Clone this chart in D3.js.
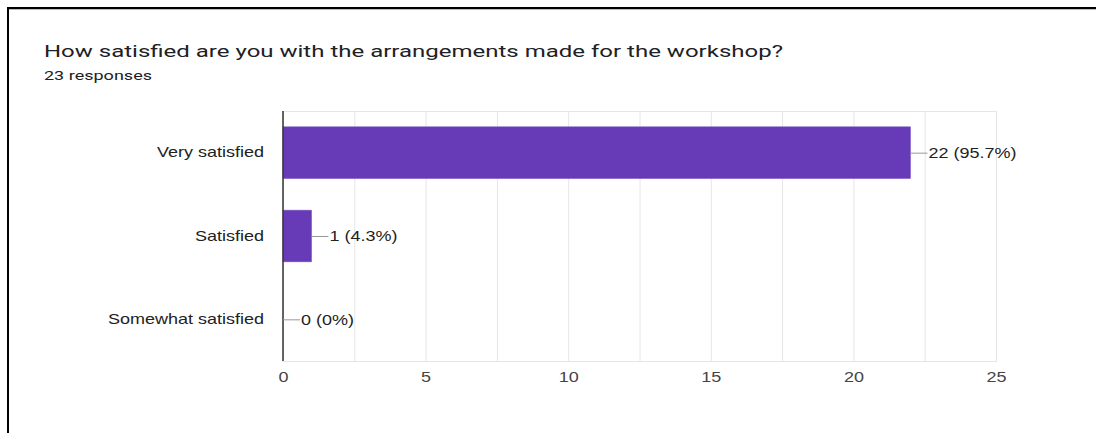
<!DOCTYPE html>
<html>
<head>
<meta charset="utf-8">
<script src="https://cdn.jsdelivr.net/npm/d3@7"></script>
<style>
  html, body { margin: 0; padding: 0; background: #fff; }
  svg { display: block; }
</style>
</head>
<body>
<svg id="chart" width="1096" height="433"></svg>
<script>
const title = "How satisfied are you with the arrangements made for the workshop?";
const subtitle = "23 responses";
const categories = ["Very satisfied", "Satisfied", "Somewhat satisfied"];
const counts = [22, 1, 0];
const percents = ["95.7%", "4.3%", "0%"];
const tickValues = [0, 5, 10, 15, 20, 25];
const gridValues = [0, 2.5, 5, 7.5, 10, 12.5, 15, 17.5, 20, 22.5, 25];

const svg = d3.select("#chart");

function stretch(sel, f) {
  sel.each(function () {
    const w = this.getComputedTextLength();
    d3.select(this).attr("textLength", w * f).attr("lengthAdjust", "spacingAndGlyphs");
  });
}

// frame
svg.append("line").attr("x1", 8).attr("x2", 1096).attr("y1", 8).attr("y2", 8)
  .attr("stroke", "#000").attr("stroke-width", 2);
svg.append("line").attr("x1", 8).attr("x2", 1096).attr("y1", 9.5).attr("y2", 9.5)
  .attr("stroke", "#bbb").attr("stroke-width", 1);
svg.append("line").attr("x1", 8).attr("x2", 8).attr("y1", 7).attr("y2", 433)
  .attr("stroke", "#000").attr("stroke-width", 2);

svg.append("text").attr("x", 44).attr("y", 57)
  .attr("font-family", "Roboto, 'Open Sans', sans-serif").attr("font-size", 17)
  .attr("fill", "#202124").text(title)
  .attr("textLength", 739).attr("lengthAdjust", "spacingAndGlyphs");
svg.append("text").attr("x", 44).attr("y", 80)
  .attr("font-family", "Roboto, sans-serif").attr("font-size", 13.5)
  .attr("fill", "#202124").text(subtitle)
  .attr("textLength", 108).attr("lengthAdjust", "spacingAndGlyphs");

const x = d3.scaleLinear().domain([0, 25]).range([283, 996]);
const y = d3.scaleBand().domain(categories).range([111, 361]).paddingInner(0.38).paddingOuter(0.19);

const font = "'Liberation Sans', Arial, sans-serif";
const F = 1.2;

// grid
svg.append("g").selectAll("line").data(gridValues).join("line")
  .attr("x1", d => x(d) + 0.5).attr("x2", d => x(d) + 0.5)
  .attr("y1", 111).attr("y2", 361)
  .attr("stroke", "#e6e6e6").attr("stroke-width", 1);
svg.append("line").attr("x1", 283).attr("x2", 997).attr("y1", 111.5).attr("y2", 111.5)
  .attr("stroke", "#e6e6e6");
svg.append("line").attr("x1", 283).attr("x2", 997).attr("y1", 361.5).attr("y2", 361.5)
  .attr("stroke", "#e6e6e6");

// x axis labels
const xAxis = d3.axisBottom(x).tickValues(tickValues).tickSize(0).tickPadding(9);
const gx = svg.append("g").attr("transform", "translate(0,362)").call(xAxis);
gx.select(".domain").remove();
gx.selectAll("text").attr("font-family", font).attr("font-size", 15).attr("fill", "#444");
stretch(gx.selectAll("text"), F);

// bars
svg.append("g").selectAll("rect").data(categories).join("rect")
  .attr("x", x(0)).attr("y", d => y(d))
  .attr("width", (d, i) => x(counts[i]) - x(0))
  .attr("height", y.bandwidth())
  .attr("fill", "#673ab7")
  .attr("stroke", "#7e57c2").attr("stroke-width", 0.6);

// y axis
const yAxis = d3.axisLeft(y).tickSize(0).tickPadding(19);
const gy = svg.append("g").attr("transform", "translate(283,0)").call(yAxis);
gy.select(".domain").attr("stroke", "#333").attr("stroke-width", 1.5).attr("d", "M0,111V361");
gy.selectAll("text").attr("font-family", font).attr("font-size", 15).attr("fill", "#222");
stretch(gy.selectAll("text"), F);

// value labels
const lab = svg.append("g").selectAll("g").data(categories).join("g")
  .attr("transform", (d, i) => `translate(${x(counts[i])},${y(d) + y.bandwidth() / 2})`);
lab.append("line").attr("x1", 0).attr("x2", 17).attr("y1", 0.5).attr("y2", 0.5)
  .attr("stroke", "#999").attr("stroke-width", 1);
const vt = lab.append("text").attr("x", 18).attr("dy", "0.35em")
  .attr("font-family", font).attr("font-size", 15).attr("fill", "#222")
  .text((d, i) => `${counts[i]} (${percents[i]})`);
stretch(vt, F);
</script>
</body>
</html>
